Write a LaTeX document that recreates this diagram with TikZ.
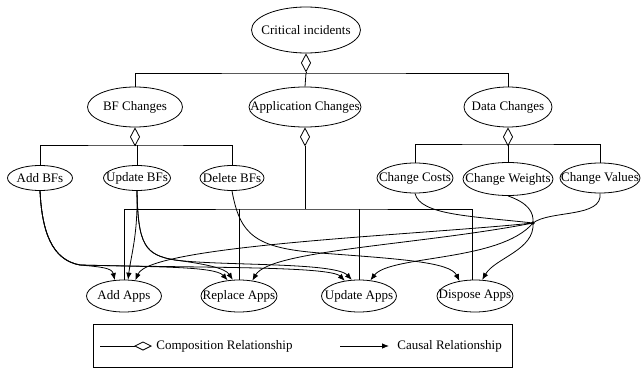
\documentclass[tikz,border=0pt]{standalone}
\usepackage{fontspec}
\setmainfont{Liberation Serif}
\usetikzlibrary{arrows.meta,shapes.geometric}

% text that does not widen its ellipse
\newcommand{\entlabel}[1]{\makebox[0pt]{#1}}

\begin{document}
\begin{tikzpicture}[x=1pt,y=-1pt,line width=0.8pt,
  ent/.style={draw,ellipse,inner sep=0pt,font=\fontsize{13}{15}\selectfont},
  lab/.style={inner sep=0pt,anchor=west,font=\fontsize{13}{15}\selectfont},
  comp/.style={-{Diamond[open,length=19pt,width=10pt]}},
  cause/.style={-{Latex[length=7pt,width=5.5pt]}}]
  \useasboundingbox (0,0) rectangle (641,369);

  % incidents and change groups
  \node[ent,minimum width=109pt,minimum height=46pt] (crit) at (306,30) {\entlabel{Critical incidents}};
  \node[ent,minimum width=95pt,minimum height=40pt] (bfc) at (135,107) {\entlabel{BF Changes}};
  \node[ent,minimum width=112pt,minimum height=40pt] (appc) at (305,107) {\entlabel{Application Changes}};
  \node[ent,minimum width=88pt,minimum height=40pt] (datac) at (508,107) {\entlabel{Data Changes}};

  % single changes
  \node[ent,minimum width=65pt,minimum height=25pt] (addbf) at (40,178) {\entlabel{Add BFs}};
  \node[ent,minimum width=67pt,minimum height=25pt] (updbf) at (137,178) {\entlabel{Update BFs}};
  \node[ent,minimum width=64pt,minimum height=25pt] (delbf) at (232,178) {\entlabel{Delete BFs}};
  \node[ent,minimum width=76pt,minimum height=30pt] (cost) at (415,178) {\entlabel{Change Costs}};
  \node[ent,minimum width=90pt,minimum height=33pt] (weight) at (508,179) {\entlabel{Change Weights}};
  \node[ent,minimum width=80pt,minimum height=30pt] (values) at (600,178) {\entlabel{Change Values}};

  % application actions
  \node[ent,minimum width=75pt,minimum height=32pt] (addapp) at (124,296) {\entlabel{Add Apps}};
  \node[ent,minimum width=76pt,minimum height=32pt] (repapp) at (239,296) {\entlabel{Replace Apps}};
  \node[ent,minimum width=75pt,minimum height=32pt] (updapp) at (359,296) {\entlabel{Update Apps}};
  \node[ent,minimum width=76pt,minimum height=32pt] (disapp) at (475,296) {\entlabel{Dispose Apps}};

  % composition
  \coordinate (critbar) at (306,73);
  \draw[comp] (critbar) -- (crit);
  \draw (bfc.north) |- (critbar) -| (datac.north);
  \draw (appc.north) -- (critbar);

  \coordinate (bfbar) at (135,145);
  \draw[comp] (bfbar) -- (bfc);
  \draw (addbf.north) |- (bfbar) -| (delbf.north);
  \draw (updbf.north) -- (updbf.north |- bfbar);

  \coordinate (databar) at (508,144);
  \draw[comp] (databar) -- (datac);
  \draw (cost.north) |- (databar) -| (values.north);
  \draw (weight.north) -- (databar);

  \coordinate (appbar) at (305,209);
  \draw[comp] (appbar) -- (appc);
  \draw (addapp.north) |- (appbar) -| ([xshift=-3pt]disapp.north);
  \draw (repapp.north) -- (repapp.north |- appbar);
  \draw (updapp.north) -- (updapp.north |- appbar);

  % causal links from BF changes
  \coordinate (addturn) at (80,265);
  \coordinate (updturn) at (175,260);
  \coordinate (delturn) at (320,253);
  \draw[cause] (addbf.south) .. controls (42,232) and (52,260) .. (addturn)
    .. controls (102,267) and (112,268) .. (addapp.120);
  \draw[cause] (addbf.south) .. controls (42,232) and (52,260) .. (addturn)
    .. controls (150,267) and (215,266) .. (repapp.126);
  \draw[cause] (addbf.south) .. controls (42,232) and (52,260) .. (addturn)
    .. controls (200,268) and (330,266) .. (updapp.133);
  \draw[cause] (updbf.south) .. controls (138,235) and (131,255) .. (addapp.76);
  \draw[cause] (updbf.south) .. controls (138,245) and (145,255) .. (updturn)
    .. controls (205,264) and (225,268) .. (repapp.111);
  \draw[cause] (updbf.south) .. controls (138,245) and (145,255) .. (updturn)
    .. controls (220,266) and (335,262) .. (updapp.114);
  \draw[cause] (delbf.south) .. controls (240,235) and (255,248) .. (delturn)
    .. controls (400,259) and (450,262) .. (disapp.136);

  % data changes meet in one point
  \coordinate (hub) at (533,223);
  \draw (cost.south) .. controls (420,215) and (470,216) .. (hub);
  \draw (weight.south) .. controls (528,203) and (534,212) .. (hub);
  \draw (values.south) .. controls (603,218) and (550,210) .. (hub);
  \fill (hub) circle (1.8);
  \draw[cause] (hub) .. controls (420,235) and (150,245) .. (addapp.54);
  \draw[cause] (hub) .. controls (420,245) and (270,250) .. (repapp.49);
  \draw[cause] (hub) .. controls (500,262) and (390,255) .. (updapp.54);
  \draw[cause] (hub) .. controls (535,250) and (495,258) .. (disapp.66);

  % legend
  \node[draw,inner sep=0pt,minimum width=419pt,minimum height=43pt] (legend) at (302.5,345.5) {};
  \coordinate (compa) at (100,346);
  \coordinate (compb) at (152,346);
  \draw[-{Diamond[open,length=18pt,width=9pt]}] (compa) -- (compb);
  \node[lab] (comptext) at (156,346) {Composition Relationship};
  \coordinate (causea) at (340,346);
  \coordinate (causeb) at (389,346);
  \draw[cause] (causea) -- (causeb);
  \node[lab] (causetext) at (397,346) {Causal Relationship};
\end{tikzpicture}
\end{document}
